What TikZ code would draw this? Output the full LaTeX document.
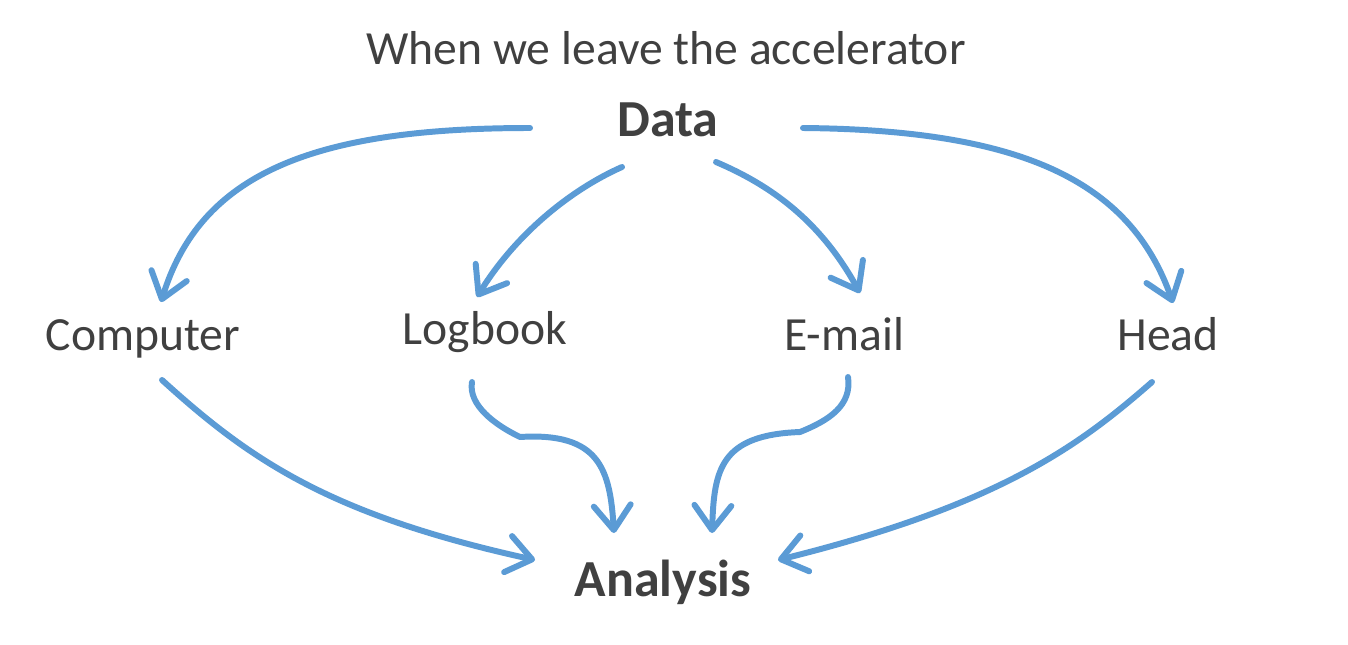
\documentclass[tikz,border=0pt]{standalone}
\usepackage{fontspec}
\setmainfont{Carlito}
\usepackage{tikz}
\usetikzlibrary{arrows.meta}

\definecolor{txtgray}{HTML}{404040}
\definecolor{arrblue}{HTML}{5B9BD5}

\begin{document}
\begin{tikzpicture}[x=0.02cm, y=-0.02cm]
  \tikzset{LBL/.style={anchor=base, inner sep=0pt, text=txtgray, font=\fontsize{27.1}{32}\selectfont} }
  \tikzset{BIG/.style={anchor=base, inner sep=0pt, text=txtgray, font=\fontsize{29.6}{35}\selectfont\bfseries} }
  \tikzset{ARR/.style={draw=arrblue, line width=3.4pt, line cap=round, line join=round,
      -{Straight Barb[length=14pt, width=21pt, line width=3.4pt, round]}} }

  \useasboundingbox (0,0) rectangle (1348,645);

  \node[LBL] (title) at (666,65) {When we leave the accelerator};
  \node[BIG] (data) at (668,137) {Data};

  \node[LBL] (comp) at (143,350) {Computer};
  \node[LBL] (log)  at (485,344) {Logbook};
  \node[LBL] (mail) at (844,350) {E-mail};
  \node[LBL] (head) at (1168,350) {Head};

  \node[BIG] (ana) at (663,596) {Analysis};

  % Data to the four channels
  \draw[ARR] ([shift={(-138,-9)}]data.base) .. controls (310,128) and (200,175) .. ([shift={(18,-48)}]comp.base);
  \draw[ARR] ([shift={(-46,30)}]data.base) .. controls (570,190) and (515,235) .. ([shift={(-8,-47)}]log.base);
  \draw[ARR] ([shift={(48,25)}]data.base) .. controls (770,185) and (820,220) .. ([shift={(16,-57)}]mail.base);
  \draw[ARR] ([shift={(135,-9)}]data.base) .. controls (1020,130) and (1130,180) .. ([shift={(5,-47)}]head.base);

  % channels to Analysis
  \draw[ARR] ([shift={(19,30)}]comp.base) .. controls (250,460) and (330,515) .. ([shift={(-128,-36)}]ana.base);
  \draw[ARR] ([shift={(-13,38)}]log.base) .. controls (468,405) and (495,425) .. (520,437)
    .. controls (600,432) and (610,470) .. ([shift={(-49,-63)}]ana.base);
  \draw[ARR] ([shift={(4,27)}]mail.base) .. controls (852,405) and (830,420) .. (800,432)
    .. controls (720,435) and (714,470) .. ([shift={(49,-63)}]ana.base);
  \draw[ARR] ([shift={(-16,32)}]head.base) .. controls (1080,445) and (1000,505) .. ([shift={(115,-36)}]ana.base);
\end{tikzpicture}
\end{document}
